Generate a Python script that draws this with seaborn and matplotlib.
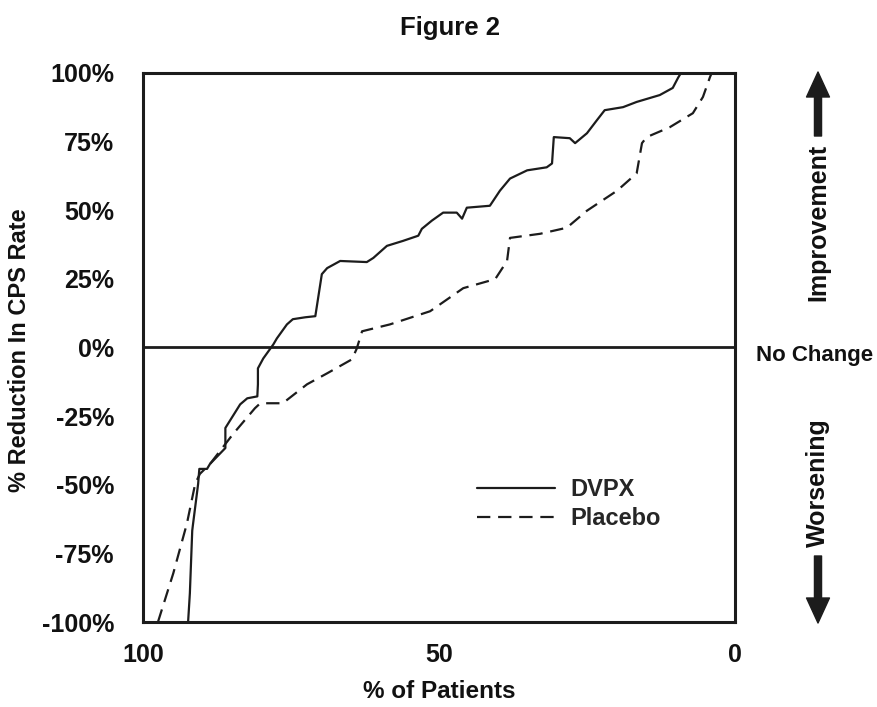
import numpy as np
import pandas as pd
import matplotlib
matplotlib.use("Agg")
import matplotlib.pyplot as plt
import seaborn as sns

# values (x = % of patients, y = % reduction in CPS rate)
dvpx_pct = [92.4, 92.1, 91.7, 91.6, 90.7, 90.5, 89.2, 88.7, 86.1, 86.1, 83.6, 82.4,
            80.7, 80.6, 80.6, 79.7, 78.0, 77.4, 75.7, 74.7, 72.6, 70.9, 69.8, 68.9,
            66.7, 62.2, 61.1, 58.8, 56.1, 53.5, 52.9, 51.2, 49.3, 47.0, 46.1, 45.3,
            41.4, 39.7, 38.0, 35.1, 31.8, 30.9, 30.6, 27.9, 27.0, 25.0, 23.3, 22.0,
            18.9, 16.6, 12.7, 10.5, 9.6, 9.1]
dvpx_reduction = [-100, -89.5, -66.7, -64.9, -49.6, -44.2, -44.2, -42.4, -36.6, -29.3, -20.7, -18.5,
                  -17.8, -13.4, -7.6, -4.0, 1.1, 3.3, 8.4, 10.3, 11.0, 11.4, 26.7, 28.9,
                  31.5, 31.1, 32.6, 37.0, 38.8, 40.7, 43.2, 46.2, 49.1, 49.1, 46.9, 50.9,
                  51.6, 57.1, 61.5, 64.5, 65.6, 67.0, 76.6, 76.2, 74.4, 78.0, 82.8, 86.4,
                  87.5, 89.4, 91.9, 94.5, 98.2, 100]

placebo_pct = [97.5, 94.9, 92.6, 91.2, 90.4, 88.7, 84.8, 81.1, 80.2, 76.4, 72.3, 68.9,
               64.7, 63.9, 63.0, 58.3, 51.5, 45.9, 40.5, 38.5, 38.0, 32.9, 28.4, 25.0,
               19.9, 16.6, 15.7, 14.9, 11.0, 7.1, 5.4, 4.2, 3.9]
placebo_reduction = [-100, -82.2, -64.1, -49.6, -46.0, -42.4, -31.5, -22.1, -20.3, -20.3, -13.4, -9.4,
                     -4.3, -0.4, 5.9, 8.4, 13.2, 21.6, 24.9, 31.5, 39.9, 41.4, 43.6, 49.8,
                     57.1, 63.4, 74.4, 76.6, 80.2, 85.3, 91.2, 98.5, 100]

groups = ["DVPX", "Placebo"]
y_ticks = [-100, -75, -50, -25, 0, 25, 50, 75, 100]
y_ticklabels = ["-100%", "-75%", "-50%", "-25%", "0%", "25%", "50%", "75%", "100%"]
x_ticks = list(range(0, 101, 10))
x_ticklabels = ["0", "", "", "", "", "50", "", "", "", "", "100"]

df = pd.concat([
    pd.DataFrame({"pct": dvpx_pct, "reduction": dvpx_reduction, "group": "DVPX"}),
    pd.DataFrame({"pct": placebo_pct, "reduction": placebo_reduction, "group": "Placebo"}),
], ignore_index=True)

sns.set_style("white")
plt.rcParams["font.family"] = ["Liberation Sans", "DejaVu Sans"]
plt.rcParams["font.weight"] = "bold"
ink = "#1c1c1c"

fig = plt.figure(figsize=(8.78, 7.07), dpi=100)
ax = fig.add_axes([0.163, 0.120, 0.674, 0.777])

sns.lineplot(data=df, x="pct", y="reduction", style="group", style_order=groups,
             dashes={"DVPX": "", "Placebo": (6, 3.5)}, color=ink, linewidth=1.6,
             estimator=None, sort=False, legend=False, ax=ax)
lines = ax.get_lines()[:2]
ax.axhline(0, color=ink, linewidth=2.0)

ax.set_xlim(100, 0)
ax.set_ylim(-100, 100)
ax.set_xticks(x_ticks)
ax.set_xticklabels(x_ticklabels)
ax.set_yticks(y_ticks)
ax.set_yticklabels(y_ticklabels)
ax.tick_params(axis="both", direction="out", length=10, width=2.2, color=ink,
               labelsize=18, labelcolor="#111")
ax.tick_params(axis="y", pad=11)
ax.tick_params(axis="x", pad=5)
for s in ax.spines.values():
    s.set_linewidth(2.2)
    s.set_color(ink)

ax.set_xlabel("% of Patients", fontsize=17.5, fontweight="bold", color="#111")
ax.xaxis.set_label_coords(0.5, -0.105)
ax.set_ylabel("% Reduction In CPS Rate", fontsize=17, fontweight="bold", color="#111")
# anchor is the right-hand side of the rotated label
ax.yaxis.set_label_coords(-0.19, 0.495)

ax.legend(lines, groups, loc="upper left", bbox_to_anchor=(0.564, 0.262), frameon=False,
          borderpad=0, borderaxespad=0, handlelength=3.3, handletextpad=0.65,
          labelspacing=0.25, prop={"size": 17, "weight": "bold"})

fig.text(450 / 878, 1 - 28 / 707, "Figure 2", ha="center", va="center",
         fontsize=18.5, fontweight="bold", color="#111")

# right-hand annotations
fig.text(818 / 878, 1 - 222 / 707, "Improvement", rotation=90, ha="center", va="center",
         fontsize=18, fontweight="bold", color="#111")
fig.text(815 / 878, 1 - 355 / 707, "No Change", ha="center", va="center",
         fontsize=16, fontweight="bold", color="#111")
fig.text(818 / 878, 1 - 483 / 707, "Worsening", rotation=90, ha="center", va="center",
         fontsize=18, fontweight="bold", color="#111")
arrow = dict(arrowstyle="simple,head_length=0.6,head_width=0.55,tail_width=0.17",
             color=ink, mutation_scale=30, shrinkA=0, shrinkB=0)
ax.annotate("", xy=(818 / 878, 1 - 72 / 707), xytext=(818 / 878, 1 - 136 / 707),
            xycoords="figure fraction", arrowprops=arrow)
ax.annotate("", xy=(818 / 878, 1 - 623 / 707), xytext=(818 / 878, 1 - 556 / 707),
            xycoords="figure fraction", arrowprops=arrow)

fig.savefig("out.png", dpi=100)
